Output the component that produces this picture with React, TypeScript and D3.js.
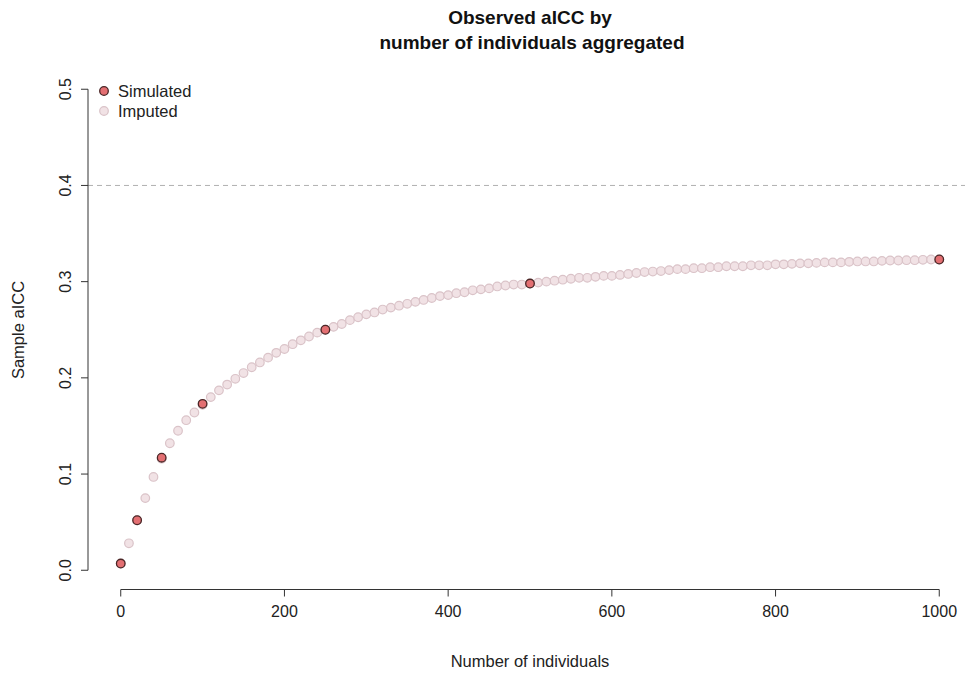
import * as d3 from 'd3';

// sample sizes (number of individuals aggregated)
const imputedN = d3.range(0, 1001, 10);
const imputedICC = [
  0.007, 0.028, 0.052, 0.075, 0.097, 0.116, 0.132, 0.145, 0.156, 0.164,
  0.172, 0.180, 0.187, 0.193, 0.199, 0.205, 0.211, 0.216, 0.221, 0.226,
  0.230, 0.235, 0.239, 0.243, 0.247, 0.250, 0.253, 0.256, 0.260, 0.263,
  0.266, 0.268, 0.271, 0.273, 0.275, 0.277, 0.279, 0.281, 0.283, 0.285,
  0.286, 0.288, 0.289, 0.291, 0.292, 0.293, 0.295, 0.296, 0.297, 0.297,
  0.298, 0.299, 0.300, 0.301, 0.302, 0.303, 0.304, 0.304, 0.305, 0.306,
  0.306, 0.307, 0.308, 0.309, 0.310, 0.3105, 0.311, 0.312, 0.313, 0.313,
  0.314, 0.314, 0.315, 0.315, 0.316, 0.316, 0.316, 0.317, 0.317, 0.317,
  0.318, 0.318, 0.3185, 0.319, 0.319, 0.3195, 0.320, 0.320, 0.320, 0.3206,
  0.321, 0.321, 0.321, 0.3216, 0.322, 0.322, 0.3223, 0.3223, 0.3227, 0.323,
  0.323,
];

const simulatedN = [0, 20, 50, 100, 250, 500, 1000];
const simulatedICC = [0.007, 0.052, 0.117, 0.173, 0.25, 0.298, 0.323];

const xTicks = [0, 200, 400, 600, 800, 1000];
const yTicks = [0, 0.1, 0.2, 0.3, 0.4, 0.5];
const refLine = 0.4;

const W = 965;
const H = 673;
const FONT = '"Liberation Sans", Arial, Helvetica, sans-serif';

const SIM_FILL = '#e36f72';
const SIM_STROKE = '#4a2626';
const IMP_FILL = '#f1e2e5';
const IMP_STROKE = '#dac3c8';

export default function App() {
  // R style: 4% padding around the data range
  const x = d3.scaleLinear().domain([-40, 1040]).range([88, 972]);
  const y = d3.scaleLinear().domain([-0.02, 0.52]).range([589.5, 70]);

  const imputed = imputedN.map((n, i) => ({ n, v: imputedICC[i] }));
  const simulated = simulatedN.map((n, i) => ({ n, v: simulatedICC[i] }));

  const axisY = 589.5;
  const axisX = 88;
  const tick = 7;

  return (
    <div style={{ position: 'absolute', left: 0, top: 0 }}>
      <svg width={W} height={H} style={{ display: 'block', background: '#fff' }} fontFamily={FONT}>
        {/* title */}
        <text x={530} y={24} textAnchor="middle" fontSize={19} fontWeight="bold" fill="#111">
          Observed aICC by
        </text>
        <text x={532} y={49} textAnchor="middle" fontSize={19} fontWeight="bold" fill="#111">
          number of individuals aggregated
        </text>

        {/* reference line */}
        <line x1={axisX} x2={W} y1={y(refLine)} y2={y(refLine)}
          stroke="#b0b0b0" strokeWidth={1} strokeDasharray="5,4" />

        {/* x axis */}
        <g stroke="#333" strokeWidth={1} fill="none">
          <line x1={x(xTicks[0])} x2={x(xTicks[xTicks.length - 1])} y1={axisY} y2={axisY} />
          {xTicks.map(t => (
            <line key={t} x1={x(t)} x2={x(t)} y1={axisY} y2={axisY + tick} />
          ))}
        </g>
        {xTicks.map(t => (
          <text key={t} x={x(t)} y={617} textAnchor="middle" fontSize={16} fill="#222">{t}</text>
        ))}
        <text x={530} y={667} textAnchor="middle" fontSize={16.5} fill="#222">Number of individuals</text>

        {/* y axis */}
        <g stroke="#333" strokeWidth={1} fill="none">
          <line x1={axisX} x2={axisX} y1={y(yTicks[0])} y2={y(yTicks[yTicks.length - 1])} />
          {yTicks.map(t => (
            <line key={t} x1={axisX} x2={axisX - tick} y1={y(t)} y2={y(t)} />
          ))}
        </g>
        {yTicks.map(t => (
          <text key={t} transform={`translate(71,${y(t)}) rotate(-90)`} textAnchor="middle"
            fontSize={16} fill="#222">{d3.format('.1f')(t)}</text>
        ))}
        <text transform={`translate(24,330) rotate(-90)`} textAnchor="middle" fontSize={16.5} fill="#222">
          Sample aICC
        </text>

        {/* imputed points */}
        {imputed.map(d => (
          <circle key={`i${d.n}`} cx={x(d.n)} cy={y(d.v)} r={4.3}
            fill={IMP_FILL} stroke={IMP_STROKE} strokeWidth={1.2} />
        ))}
        {/* simulated points */}
        {simulated.map(d => (
          <circle key={`s${d.n}`} cx={x(d.n)} cy={y(d.v)} r={4.3}
            fill={SIM_FILL} stroke={SIM_STROKE} strokeWidth={1.3} />
        ))}

        {/* legend */}
        <circle cx={104} cy={91} r={4.3} fill={SIM_FILL} stroke={SIM_STROKE} strokeWidth={1.3} />
        <text x={118} y={96.5} fontSize={16.5} fill="#222">Simulated</text>
        <circle cx={104} cy={111} r={4.3} fill={IMP_FILL} stroke={IMP_STROKE} strokeWidth={1.2} />
        <text x={118} y={117} fontSize={16.5} fill="#222">Imputed</text>
      </svg>
    </div>
  );
}
